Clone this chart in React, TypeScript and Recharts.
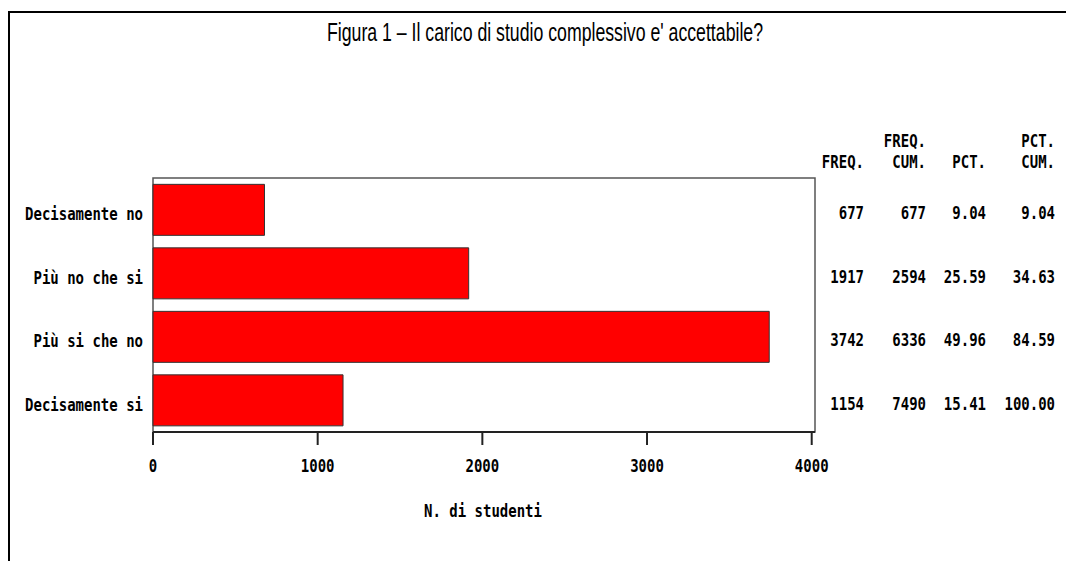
import React from "react";
import { BarChart, Bar, XAxis, YAxis, ReferenceArea } from "recharts";

const categories = ["Decisamente no", "Più no che si", "Più si che no", "Decisamente si"];
const freq = [677, 1917, 3742, 1154];
const freqCum = [677, 2594, 6336, 7490];
const pct = [9.04, 25.59, 49.96, 15.41];
const pctCum = [9.04, 34.63, 84.59, 100.0];
const xTicks = [0, 1000, 2000, 3000, 4000];

const title = "Figura 1 \u2013  Il carico di studio complessivo e'  accettabile?";
const xLabel = "N. di studenti";

const data = categories.map((label, i) => ({ label, freq: freq[i] }));

// right-edge offsets of the table columns, measured from the plot's right side
const cols = [49, 111, 171, 240];

const MONO = "'DejaVu Sans Mono', 'Liberation Mono', monospace";

// the SAS-style bitmap font is tall and narrow: 14px mono stretched vertically
const MonoText = ({ x, y, anchor = "end", children }: any) => (
  <g transform={`translate(${x},${y}) scale(1,1.2)`}>
    <text
      x={0}
      y={0}
      textAnchor={anchor}
      dominantBaseline="central"
      fontFamily={MONO}
      fontSize={14}
      fontWeight="bold"
      fill="#000"
    >
      {String(children)}
    </text>
  </g>
);

const LeftTick = ({ x, y, payload }: any) => (
  <MonoText x={x} y={y + 5}>
    {payload.value}
  </MonoText>
);

const TableRow = ({ x, y, index }: any) => {
  const row = [freq[index], freqCum[index], pct[index].toFixed(2), pctCum[index].toFixed(2)];
  return (
    <g>
      {row.map((v, i) => (
        <MonoText key={i} x={x + cols[i]} y={y + 4}>
          {v}
        </MonoText>
      ))}
    </g>
  );
};

const TableHeader = ({ viewBox }: any) => {
  const { x, y } = viewBox;
  const top = ["", "FREQ.", "", "PCT."];
  const bottom = ["FREQ.", "CUM.", "PCT.", "CUM."];
  return (
    <g>
      {cols.map((c, i) => (
        <g key={i}>
          {top[i] && (
            <MonoText x={x + c} y={y - 36}>
              {top[i]}
            </MonoText>
          )}
          <MonoText x={x + c} y={y - 15}>
            {bottom[i]}
          </MonoText>
        </g>
      ))}
    </g>
  );
};

const BottomTick = ({ x, y, payload }: any) => (
  <MonoText x={x} y={y + 22} anchor="middle">
    {payload.value}
  </MonoText>
);

const AxisTitle = ({ viewBox }: any) => (
  <MonoText x={viewBox.x + 330} y={viewBox.y + 80} anchor="middle">
    {xLabel}
  </MonoText>
);

export default function App() {
  return (
    <div style={{ position: "absolute", left: 0, top: 0, width: 1066, height: 561, background: "#fff" }}>
      <BarChart
        width={1066}
        height={561}
        layout="vertical"
        data={data}
        barCategoryGap="10%"
        margin={{ top: 178, right: 0, bottom: 0, left: 0 }}
      >
        <XAxis
          type="number"
          domain={[0, 4020]}
          ticks={xTicks}
          height={129}
          tickSize={13}
          tickMargin={0}
          stroke="#222"
          strokeWidth={2}
          tick={<BottomTick />}
          label={<AxisTitle />}
        />
        <YAxis
          yAxisId="left"
          type="category"
          dataKey="label"
          width={153}
          axisLine={false}
          tickLine={false}
          tickSize={0}
          tickMargin={10}
          tick={<LeftTick />}
        />
        <YAxis
          yAxisId="right"
          orientation="right"
          type="category"
          dataKey="label"
          width={251}
          axisLine={false}
          tickLine={false}
          tickSize={0}
          tickMargin={0}
          tick={<TableRow />}
          label={<TableHeader />}
        />
        <ReferenceArea yAxisId="left" x1={0} x2={4020} fill="none" stroke="#555" strokeWidth={1.5} />
        <Bar
          yAxisId="left"
          dataKey="freq"
          fill="#ff0000"
          stroke="#333"
          strokeWidth={1}
          isAnimationActive={false}
        />
      </BarChart>
      <svg
        width={1066}
        height={561}
        style={{ position: "absolute", left: 0, top: 0, pointerEvents: "none" }}
      >
        <rect x={8} y={11} width={1058} height={2} fill="#000" />
        <rect x={8} y={11} width={2} height={550} fill="#000" />
        <text
          x={545}
          y={32}
          textAnchor="middle"
          dominantBaseline="central"
          fontFamily="'Liberation Sans Narrow', 'Arial Narrow', 'Liberation Sans', sans-serif"
          fontSize={25}
          fill="#000"
          textLength={436}
          lengthAdjust="spacingAndGlyphs"
        >
          {title}
        </text>
      </svg>
    </div>
  );
}
